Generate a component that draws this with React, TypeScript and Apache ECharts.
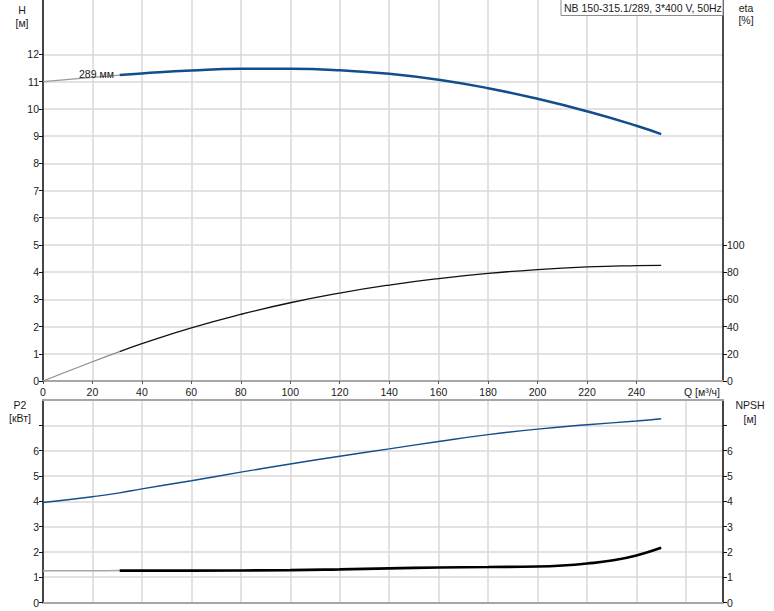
import React, { useEffect, useRef } from "react";
import * as echarts from "echarts";

// Flow rate Q [м³/ч]
const flowQ = [0, 20, 31, 40, 60, 80, 100, 120, 140, 160, 180, 200, 220, 240, 250];
// Head H [м]
const headH = [11.0, 11.16, 11.24, 11.3, 11.41, 11.47, 11.47, 11.42, 11.29, 11.07, 10.76, 10.37, 9.91, 9.38, 9.07];
// Efficiency eta [%]
const etaPct = [0, 14.2, 21.6, 27.5, 39.1, 49.0, 57.5, 64.6, 70.5, 75.3, 79.1, 81.9, 83.8, 84.8, 85.0];
// Power P2 [кВт]
const powerP2 = [3.95, 4.18, 4.33, 4.49, 4.81, 5.15, 5.47, 5.78, 6.07, 6.36, 6.63, 6.85, 7.02, 7.17, 7.26];
// NPSH [м]
const npshQ = [0, 20, 31, 60, 100, 120, 140, 160, 180, 200, 210, 220, 230, 240, 250];
const npshM = [1.25, 1.25, 1.26, 1.26, 1.28, 1.31, 1.35, 1.38, 1.4, 1.42, 1.46, 1.54, 1.66, 1.86, 2.16];

const splitQ = 31; // below this flow the curves are drawn thin grey
const xTicks = [0, 20, 40, 60, 80, 100, 120, 140, 160, 180, 200, 220, 240];
const hTicks = [0, 1, 2, 3, 4, 5, 6, 7, 8, 9, 10, 11, 12];
const etaTicks = [0, 20, 40, 60, 80, 100];
const lowerTicks = [0, 1, 2, 3, 4, 5, 6, 7];
const lowerLabels = [0, 1, 2, 3, 4, 5, 6];
const title = "NB 150-315.1/289, 3*400 V, 50Hz";
const curveLabel = "289 мм";

const FONT = "'Liberation Sans', Arial, sans-serif";
const FS = 10.5;
const TXT = "#1a1a1a";
const GRID = "#d9d9d9";
const BLUE = "#124e8c";

function pairs(qs: number[], vs: number[], lo: boolean) {
  const out: any[] = [];
  qs.forEach((q, i) => {
    if (lo ? q <= splitQ : q >= splitQ) out.push([q, vs[i]]);
  });
  return out;
}

export default function App() {
  const ref = useRef<HTMLDivElement>(null);
  useEffect(() => {
    if (!ref.current) return;
    const chart = echarts.init(ref.current, null, { renderer: "svg" });
    const labelStyle = { color: TXT, fontSize: FS, fontFamily: FONT };
    const xBase = (gi: number, withLabels: boolean) => ({
      type: "value",
      gridIndex: gi,
      min: 0,
      max: 275,
      interval: 20,
      axisLine: { show: true, lineStyle: { color: "#a6a6a6", width: 2 } },
      axisTick: withLabels
        ? { show: true, length: 3, lineStyle: { color: "#555" }, customValues: xTicks }
        : { show: false },
      axisLabel: withLabels
        ? { show: true, ...labelStyle, margin: 5, customValues: xTicks }
        : { show: false },
      splitLine: { show: true, lineStyle: { color: GRID, width: 1.5 } },
    });
    const yBase = (gi: number, pos: string, max: number, interval: number, ticks: number[], labels: number[], split: boolean) => ({
      type: "value",
      gridIndex: gi,
      position: pos,
      min: 0,
      max,
      interval,
      axisLine: { show: true, onZero: false, lineStyle: { color: "#111", width: 1.5 } },
      axisTick: { show: true, length: 4, lineStyle: { color: "#111" }, customValues: ticks },
      axisLabel: { show: true, ...labelStyle, margin: 4, customValues: labels },
      splitLine: { show: split, lineStyle: { color: GRID, width: 1.5 } },
    });

    const hLow = pairs(flowQ, headH, true).map((p) =>
      p[0] === 20
        ? {
            value: p,
            label: {
              show: true,
              formatter: curveLabel,
              position: "top",
              distance: 0,
              offset: [4, 2],
              ...labelStyle,
            },
          }
        : p
    );

    const lineBase = { type: "line", smooth: 0.5, symbol: "circle", symbolSize: 0, showSymbol: true, silent: true };

    const option: any = {
      animation: false,
      backgroundColor: "#ffffff",
      grid: [
        { left: 43, right: 51, top: 0, height: 381, containLabel: false },
        { left: 43, right: 51, top: 400, height: 202.5, containLabel: false },
      ],
      xAxis: [
        xBase(0, true),
        xBase(1, false),
        {
          type: "value",
          gridIndex: 1,
          position: "top",
          min: 0,
          max: 275,
          axisLine: { show: true, onZero: false, lineStyle: { color: "#a6a6a6", width: 2 } },
          axisTick: { show: false },
          axisLabel: { show: false },
          splitLine: { show: false },
        },
      ],
      yAxis: [
        yBase(0, "left", 14, 1, hTicks, hTicks, true),
        yBase(0, "right", 280, 20, etaTicks, etaTicks, false),
        yBase(1, "left", 8, 1, lowerTicks, lowerLabels, true),
        yBase(1, "right", 8, 1, lowerTicks, lowerLabels, false),
      ],
      series: [
        {
          ...lineBase, xAxisIndex: 0, yAxisIndex: 0,
          data: hLow, lineStyle: { color: "#9a9a9a", width: 1.2 }, z: 3,
        },
        {
          ...lineBase, xAxisIndex: 0, yAxisIndex: 0,
          data: pairs(flowQ, headH, false), lineStyle: { color: BLUE, width: 2.5 }, z: 4,
        },
        {
          ...lineBase, xAxisIndex: 0, yAxisIndex: 1,
          data: pairs(flowQ, etaPct, true), lineStyle: { color: "#8a8a8a", width: 1.1 }, z: 3,
        },
        {
          ...lineBase, xAxisIndex: 0, yAxisIndex: 1,
          data: pairs(flowQ, etaPct, false), lineStyle: { color: "#111", width: 1.3 }, z: 4,
        },
        {
          ...lineBase, xAxisIndex: 1, yAxisIndex: 2,
          data: flowQ.map((q, i) => [q, powerP2[i]]), lineStyle: { color: BLUE, width: 1.4 }, z: 4,
        },
        {
          ...lineBase, xAxisIndex: 1, yAxisIndex: 3,
          data: pairs(npshQ, npshM, true), lineStyle: { color: "#a8a8a8", width: 1.5 }, z: 3,
        },
        {
          ...lineBase, xAxisIndex: 1, yAxisIndex: 3,
          data: pairs(npshQ, npshM, false), lineStyle: { color: "#000", width: 2.6 }, z: 4,
        },
      ],
      graphic: [
        {
          type: "rect", z: 100,
          shape: { x: 561, y: -1, width: 162, height: 16.5 },
          style: { fill: "#fff", stroke: "#8c8c8c", lineWidth: 1 },
        },
        {
          type: "text", z: 101, x: 564, y: 8,
          style: { text: title, fontSize: FS, fontFamily: FONT, fill: TXT, verticalAlign: "middle" },
        },
        { type: "text", z: 101, x: 22, y: 10, style: { text: "H", fontSize: FS, fontFamily: FONT, fill: TXT, align: "center", verticalAlign: "middle" } },
        { type: "text", z: 101, x: 22, y: 23, style: { text: "[м]", fontSize: FS, fontFamily: FONT, fill: TXT, align: "center", verticalAlign: "middle" } },
        { type: "text", z: 101, x: 746, y: 8, style: { text: "eta", fontSize: FS, fontFamily: FONT, fill: TXT, align: "center", verticalAlign: "middle" } },
        { type: "text", z: 101, x: 746, y: 20, style: { text: "[%]", fontSize: FS, fontFamily: FONT, fill: TXT, align: "center", verticalAlign: "middle" } },
        { type: "text", z: 101, x: 20, y: 405, style: { text: "P2", fontSize: FS, fontFamily: FONT, fill: TXT, align: "center", verticalAlign: "middle" } },
        { type: "text", z: 101, x: 20, y: 418, style: { text: "[кВт]", fontSize: FS, fontFamily: FONT, fill: TXT, align: "center", verticalAlign: "middle" } },
        { type: "text", z: 101, x: 750, y: 405, style: { text: "NPSH", fontSize: FS, fontFamily: FONT, fill: TXT, align: "center", verticalAlign: "middle" } },
        { type: "text", z: 101, x: 750, y: 419, style: { text: "[м]", fontSize: FS, fontFamily: FONT, fill: TXT, align: "center", verticalAlign: "middle" } },
        { type: "text", z: 101, x: 702, y: 392, style: { text: "Q [м³/ч]", fontSize: FS, fontFamily: FONT, fill: TXT, align: "center", verticalAlign: "middle" } },
      ],
    };
    chart.setOption(option);
    return () => chart.dispose();
  }, []);
  return (
    <div
      ref={ref}
      style={{ position: "fixed", left: 0, top: 0, width: 774, height: 611, background: "#fff" }}
    />
  );
}
